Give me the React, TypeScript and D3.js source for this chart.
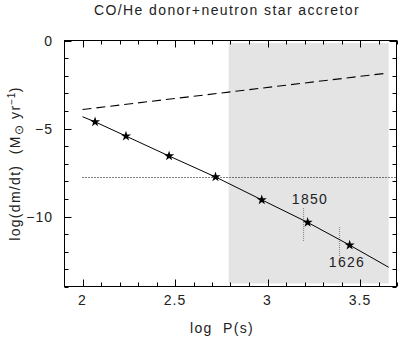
import React, { useEffect, useRef } from 'react';
import * as d3 from 'd3';

// data
const starLogP = [2.068, 2.235, 2.468, 2.719, 2.969, 3.217, 3.444];
const starLogMdot = [-4.62, -5.43, -6.56, -7.75, -9.05, -10.33, -11.62];
const solidLogP = [2.0, 2.068, 2.235, 2.468, 2.719, 2.969, 3.217, 3.444, 3.655];
const solidLogMdot = [-4.33, -4.62, -5.43, -6.56, -7.75, -9.05, -10.33, -11.62, -12.88];
const dashedLogP = [2.0, 2.79, 3.65];
const dashedLogMdot = [-3.92, -2.93, -1.85];
const eddingtonLevel = -7.75;
const shadeRange = [2.79, 3.655];
const xTickLabels = [2, 2.5, 3, 3.5];
const yTickLabels = [0, -5, -10];
const markers = [
  { label: '1850', x: 3.19, y0: -9.5, y1: -11.4, lx: 3.23, ly: -9.3 },
  { label: '1626', x: 3.385, y0: -10.6, y1: -12.25, lx: 3.43, ly: -12.85 },
];

const W = 398;
const H = 337;
const FONT = 'Liberation Sans, Arial, sans-serif';

const App = () => {
  const svgRef = useRef<SVGSVGElement>(null);

  useEffect(() => {
    const svg = d3.select(svgRef.current);
    svg.selectAll('*').remove();

    const x = d3.scaleLinear().domain([1.9, 3.7]).range([64, 397]);
    const y = d3.scaleLinear().domain([-14, 0]).range([287, 40.5]);
    const px = (v: number) => Math.round(x(v)) + 0.5;
    const py = (v: number) => Math.round(y(v)) + 0.5;

    const txt = (sel: any, size = 14, spacing = 1.3) =>
      sel.style('font-family', FONT)
        .style('font-size', `${size}px`)
        .style('letter-spacing', `${spacing}px`)
        .style('white-space', 'pre')
        .style('fill', '#222');

    // shaded region
    svg.append('rect')
      .attr('x', x(shadeRange[0]))
      .attr('y', y(-0.15))
      .attr('width', x(shadeRange[1]) - x(shadeRange[0]))
      .attr('height', y(-13.8) - y(-0.15))
      .attr('fill', '#e4e4e4');

    // vertical dotted markers
    markers.forEach(m => {
      svg.append('line')
        .attr('x1', px(m.x)).attr('x2', px(m.x))
        .attr('y1', Math.round(y(m.y0))).attr('y2', Math.round(y(m.y1)))
        .attr('stroke', '#8c8c8c')
        .attr('stroke-width', 1.2)
        .attr('stroke-dasharray', '1,1');
      txt(svg.append('text')
        .attr('x', x(m.lx)).attr('y', y(m.ly))
        .attr('text-anchor', 'middle'))
        .text(m.label);
    });

    // horizontal dotted line
    svg.append('line')
      .attr('x1', x(2.0)).attr('x2', x(3.7))
      .attr('y1', py(eddingtonLevel)).attr('y2', py(eddingtonLevel))
      .attr('stroke', '#000')
      .attr('stroke-width', 1)
      .attr('stroke-dasharray', '1,2');

    // dashed line
    const dashedPts = dashedLogP.map((p, i) => [x(p), y(dashedLogMdot[i])] as [number, number]);
    svg.append('path')
      .attr('d', d3.line()(dashedPts))
      .attr('fill', 'none')
      .attr('stroke', '#000')
      .attr('stroke-width', 1.1)
      .attr('stroke-dasharray', '9,5');

    // solid line
    const solidPts = solidLogP.map((p, i) => [x(p), y(solidLogMdot[i])] as [number, number]);
    svg.append('path')
      .attr('d', d3.line()(solidPts))
      .attr('fill', 'none')
      .attr('stroke', '#000')
      .attr('stroke-width', 1);

    // stars
    const star = d3.symbol().type(d3.symbolStar).size(32);
    svg.selectAll('.star')
      .data(starLogP)
      .enter()
      .append('path')
      .attr('transform', (d, i) => `translate(${x(d)},${y(starLogMdot[i])})`)
      .attr('d', star())
      .attr('fill', '#000');

    // frame
    const x0 = 64.5, x1 = 396.5, y0 = 40.5, y1 = 286.5;
    svg.append('rect')
      .attr('x', x0).attr('y', y0)
      .attr('width', x1 - x0).attr('height', y1 - y0)
      .attr('fill', 'none')
      .attr('stroke', '#000')
      .attr('stroke-width', 1);

    // ticks on all four sides, inward
    const ticks = svg.append('g').attr('stroke', '#000').attr('stroke-width', 1);
    d3.range(19).map(i => 1.9 + i * 0.1).forEach(v => {
      const major = Math.abs(v * 2 - Math.round(v * 2)) < 1e-6;
      const len = major ? 7 : 4;
      ticks.append('line').attr('x1', px(v)).attr('x2', px(v)).attr('y1', y1).attr('y2', y1 - len);
      ticks.append('line').attr('x1', px(v)).attr('x2', px(v)).attr('y1', y0).attr('y2', y0 + len);
    });
    d3.range(-14, 1).forEach(v => {
      const len = v % 5 === 0 ? 7 : 4;
      ticks.append('line').attr('x1', x0).attr('x2', x0 + len).attr('y1', py(v)).attr('y2', py(v));
      ticks.append('line').attr('x1', x1).attr('x2', x1 - len).attr('y1', py(v)).attr('y2', py(v));
    });

    // tick labels
    txt(svg.selectAll('.xl')
      .data(xTickLabels)
      .enter()
      .append('text')
      .attr('x', d => x(d))
      .attr('y', 305)
      .attr('text-anchor', 'middle'), 14, 1)
      .text(d => String(d));

    txt(svg.selectAll('.yl')
      .data(yTickLabels)
      .enter()
      .append('text')
      .attr('x', 53)
      .attr('y', d => y(d) + 5)
      .attr('text-anchor', 'end'), 14, 1)
      .text(d => (d < 0 ? '\u2212' + Math.abs(d) : String(d)));

    // title
    txt(svg.append('text')
      .attr('x', 227)
      .attr('y', 15)
      .attr('text-anchor', 'middle'), 14, 1.4)
      .text('CO/He donor+neutron star accretor');

    // x label
    txt(svg.append('text')
      .attr('x', 222)
      .attr('y', 333)
      .attr('text-anchor', 'middle'), 14, 1.3)
      .text('log  P(s)');

    // y label
    const yl = txt(svg.append('text')
      .attr('transform', `translate(20,${(y0 + y1) / 2}) rotate(-90)`)
      .attr('text-anchor', 'middle'), 14, 1.3);
    yl.append('tspan').text('log(dm/dt)  (M');
    yl.append('tspan').attr('dy', 3).style('font-size', '12px').text('\u2299');
    yl.append('tspan').attr('dy', -3).text(' yr');
    yl.append('tspan').attr('dy', -5).style('font-size', '10px').style('letter-spacing', '0.5px').text('\u22121');
    yl.append('tspan').attr('dy', 5).text(')');
  }, []);

  return (
    <svg
      ref={svgRef}
      width={W}
      height={H}
      style={{ position: 'absolute', left: 0, top: 0, background: '#fff' }}
    />
  );
};

export default App;
